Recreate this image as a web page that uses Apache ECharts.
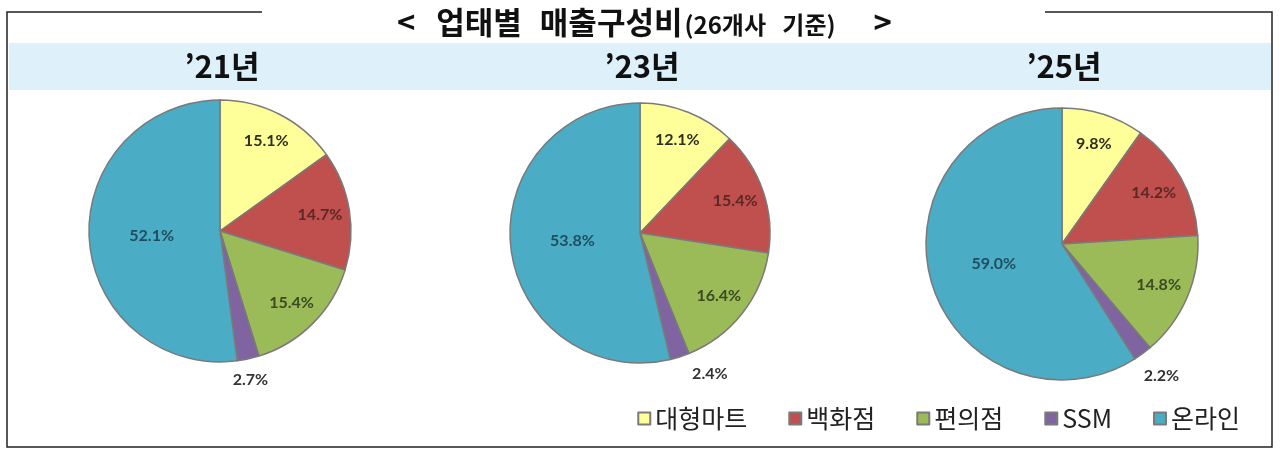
<!DOCTYPE html>
<html><head><meta charset="utf-8">
<script src="https://cdn.jsdelivr.net/npm/echarts@6/dist/echarts.min.js"></script>
<style>html,body{margin:0;padding:0;background:#fff}#c{width:1280px;height:452px}</style>
</head><body><div id="c"></div>
<script>
// ---- data ----
const categories = ['대형마트', '백화점', '편의점', 'SSM', '온라인'];
const yearLabels = ['’21년', '’23년', '’25년'];
const share21 = [15.1, 14.7, 15.4, 2.7, 52.1];
const share23 = [12.1, 15.4, 16.4, 2.4, 53.8];
const share25 = [9.8, 14.2, 14.8, 2.2, 59.0];
const titleOpen = '<';
const titleWord1 = '업태별';
const titleWord2 = '매출구성비';
const titleSub = '(26개사   기준)';
const titleClose = '>';

// ---- styles ----
const sliceColors = ['#FFFF99', '#C0504D', '#9BBB59', '#8064A2', '#4BACC6'];
const labelColors = ['#2e2e22', '#5a2826', '#3b4a22', '#333333', '#1e4e60'];
const pieLayout = [
  { center: [220, 231], r: 131, ssmDx: -2, ssmDy: 1 },
  { center: [640, 233], r: 130, ssmDx: 24, ssmDy: -2 },
  { center: [1062, 244], r: 136, ssmDx: 7, ssmDy: 6 }
];
const yearValues = [share21, share23, share25];
const labelFont = { fontFamily: 'Lato', fontWeight: 'bold', fontSize: 16 };
const pct = (p) => p.value.toFixed(1) + '%';

const series = [];
yearValues.forEach((vals, yi) => {
  const L = pieLayout[yi];
  series.push({
    type: 'pie', center: L.center, radius: [0, L.r], startAngle: 90, clockwise: true,
    avoidLabelOverlap: false, silent: true, animation: false,
    itemStyle: { borderColor: '#7a7a7a', borderWidth: 1.5 },
    labelLine: { show: false, length: 20, length2: 0 },
    labelLayout: (p) => p.dataIndex === 3 ? { align: 'center', dx: L.ssmDx, dy: L.ssmDy } : { align: 'center' },
    data: categories.map((name, i) => ({
      name, value: vals[i],
      itemStyle: { color: sliceColors[i] },
      label: i === 3
        ? Object.assign({ show: true, position: 'outside', distanceToLabelLine: 0, color: labelColors[i], formatter: pct }, labelFont)
        : i === 4
          ? Object.assign({ show: true, position: 'inside', color: labelColors[i], formatter: pct }, labelFont)
          : { show: false }
    }))
  });
  series.push({
    type: 'pie', center: L.center, radius: [L.r * 0.5, L.r], startAngle: 90, clockwise: true,
    avoidLabelOverlap: false, silent: true, animation: false, z: 3,
    itemStyle: { color: 'rgba(0,0,0,0)', borderWidth: 0 },
    labelLine: { show: false },
    data: categories.map((name, i) => ({
      name, value: vals[i],
      itemStyle: { color: 'rgba(0,0,0,0)' },
      label: i < 3
        ? Object.assign({ show: true, position: 'inside', color: labelColors[i], formatter: pct }, labelFont)
        : { show: false }
    }))
  });
});

const F = 'Noto Sans CJK KR';
const titles = [{
  text: '{a|' + titleOpen + '}{g|}{a|' + titleWord1 + '}{h|}{a|' + titleWord2 + '}{b|' + titleSub + '}{k|}{a|' + titleClose + '}',
  left: 392, top: 2,
  textStyle: {
    rich: {
      a: { fontFamily: F, fontWeight: 'bold', fontSize: 31, color: '#111' },
      b: { fontFamily: F, fontWeight: 'bold', fontSize: 24, color: '#111', padding: [4, 0, 0, 2] },
      g: { width: 21 },
      h: { width: 18 },
      k: { width: 38 }
    }
  }
}];
yearLabels.forEach((t, yi) => {
  titles.push({
    text: t, left: pieLayout[yi].center[0] - 3, top: 46, textAlign: 'center',
    textStyle: { fontFamily: F, fontWeight: 'bold', fontSize: 31, color: '#111' }
  });
});

const chart = echarts.init(document.getElementById('c'), null, { renderer: 'canvas' });
chart.setOption({
  backgroundColor: '#fff',
  animation: false,
  title: titles,
  legend: {
    data: categories, right: 35, top: 401, icon: 'rect', itemWidth: 12, itemHeight: 12, itemGap: 41,
    selectedMode: false,
    textStyle: { fontFamily: F, fontSize: 25, color: '#222' }
  },
  graphic: [
    { type: 'rect', z: -10, shape: { x: 9, y: 43, width: 1262, height: 47 }, style: { fill: '#DEF1FB' } },
    { type: 'polyline', z: -5, shape: { points: [[262, 12], [7, 12], [7, 447], [1272, 447], [1272, 12], [1045, 12]] },
      style: { stroke: '#222', lineWidth: 1.5, fill: null } }
  ],
  series
});
</script></body></html>
